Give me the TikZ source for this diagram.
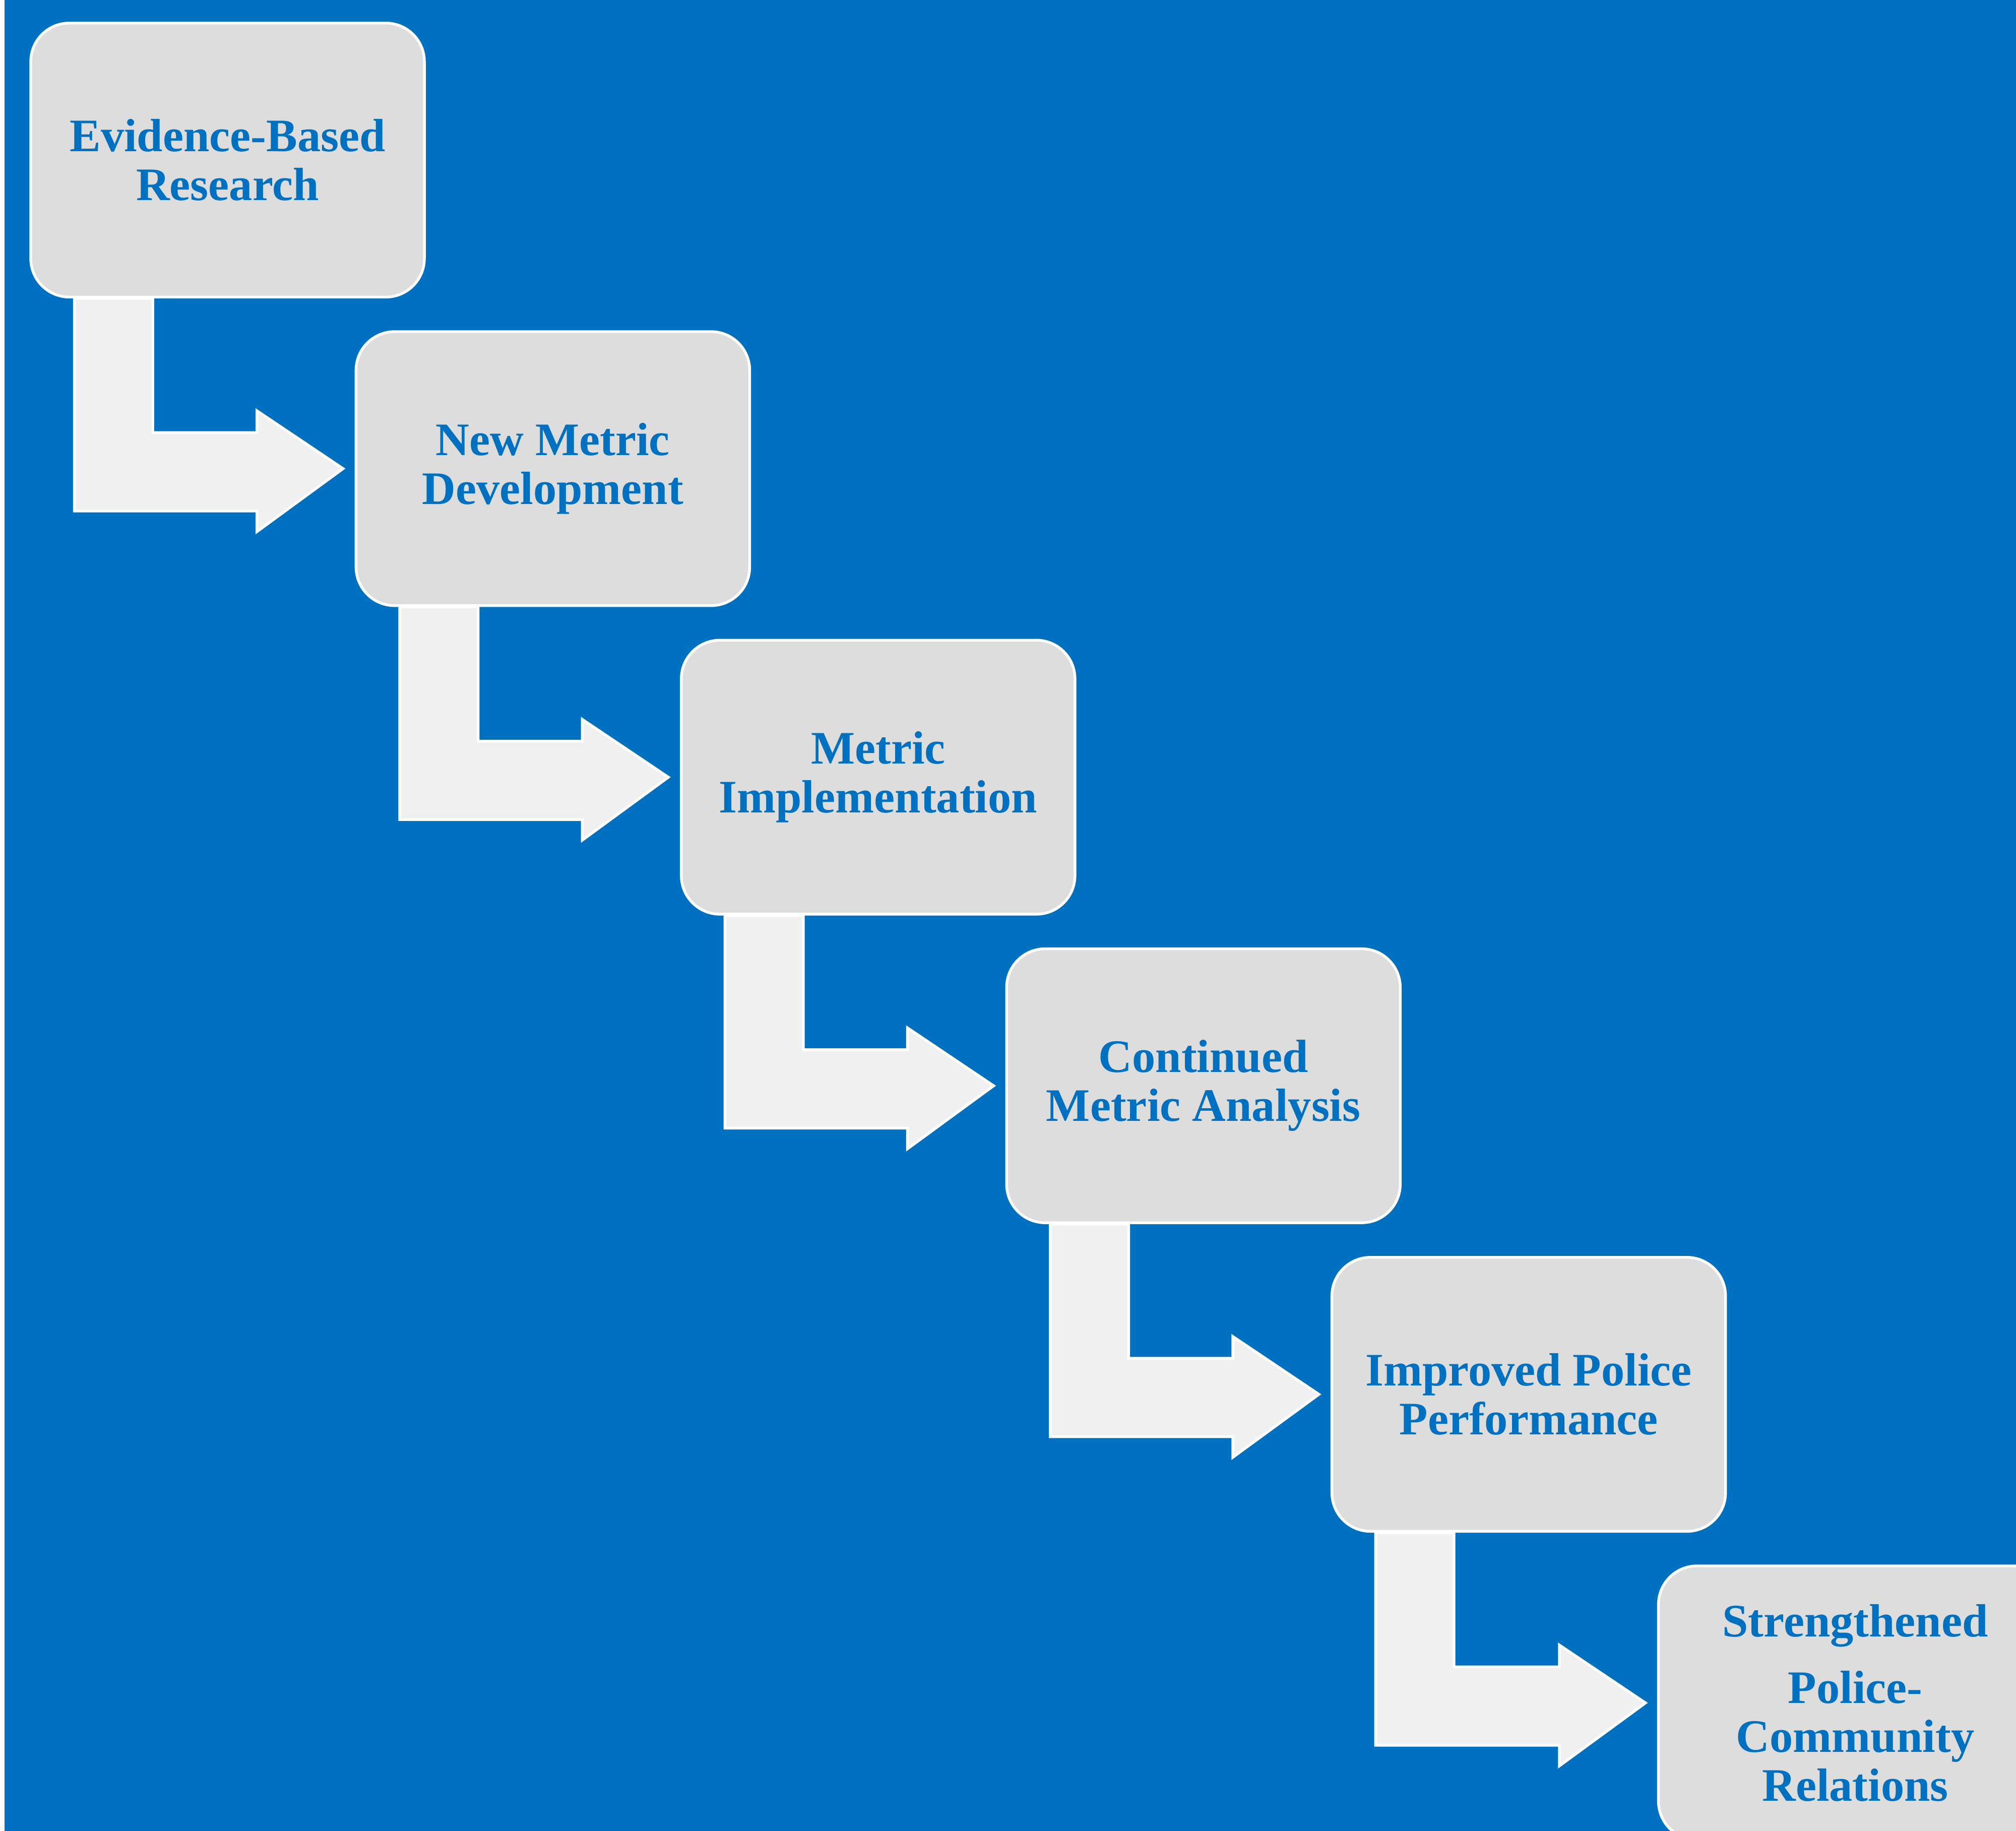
\documentclass[tikz,border=0pt]{standalone}
\usepackage{fontspec}
\setmainfont{Liberation Serif}
\usetikzlibrary{calc,backgrounds}
\definecolor{modra}{HTML}{0070C0}
\definecolor{seda}{HTML}{DDDDDD}
\definecolor{svetla}{HTML}{F0F0F0}
\tikzset{
  krok/.style={draw=white, line width=0.6pt, fill=seda, rounded corners=0.3cm,
    minimum width=3.06cm, minimum height=2.13cm, align=center,
    text=modra, font=\fontsize{10.3}{10.8}\selectfont\bfseries},
  sipka/.style={draw=white, line width=0.6pt, fill=svetla}
}
% lomena sipka z boxu #1 do boxu #2
\newcommand{\lomena}[2]{%
  \draw[sipka] ($(#1.south west)+(35,0)$) -- ($(#1.south west)+(96,0)$)
    |- ($(#2.west)+(-76,-28)$) -- ($(#2.west)+(-76,-45)$)
    -- ($(#2.west)+(-9,0)$) -- ($(#2.west)+(-76,49)$)
    -- ($(#2.west)+(-76,33)$) -| cycle;}
\begin{document}
\begin{tikzpicture}[x=0.01cm, y=-0.01cm]
\useasboundingbox (0,0) rectangle (1568,1424);
\clip (0,0) rectangle (1568,1424);
% Kroky
\node[krok] (b1) at (177,124.5) {Evidence-Based\\Research};
\node[krok] (b2) at (430,364.5) {New Metric\\Development};
\node[krok] (b3) at (683,604.5) {Metric\\Implementation};
\node[krok] (b4) at (936,844.5) {Continued\\Metric Analysis};
\node[krok] (b5) at (1189,1084.5) {Improved Police\\Performance};
\node[krok] (b6) at (1443,1324.5) {Strengthened\\[4pt]Police-\\Community\\Relations};
% Pozadi a sipky
\begin{pgfonlayer}{background}
\fill[white] (0,0) rectangle (1568,1424);
\fill[modra] (3.5,0) rectangle (1568,1424);
\lomena{b1}{b2}
\lomena{b2}{b3}
\lomena{b3}{b4}
\lomena{b4}{b5}
\lomena{b5}{b6}
\end{pgfonlayer}
\end{tikzpicture}
\end{document}
